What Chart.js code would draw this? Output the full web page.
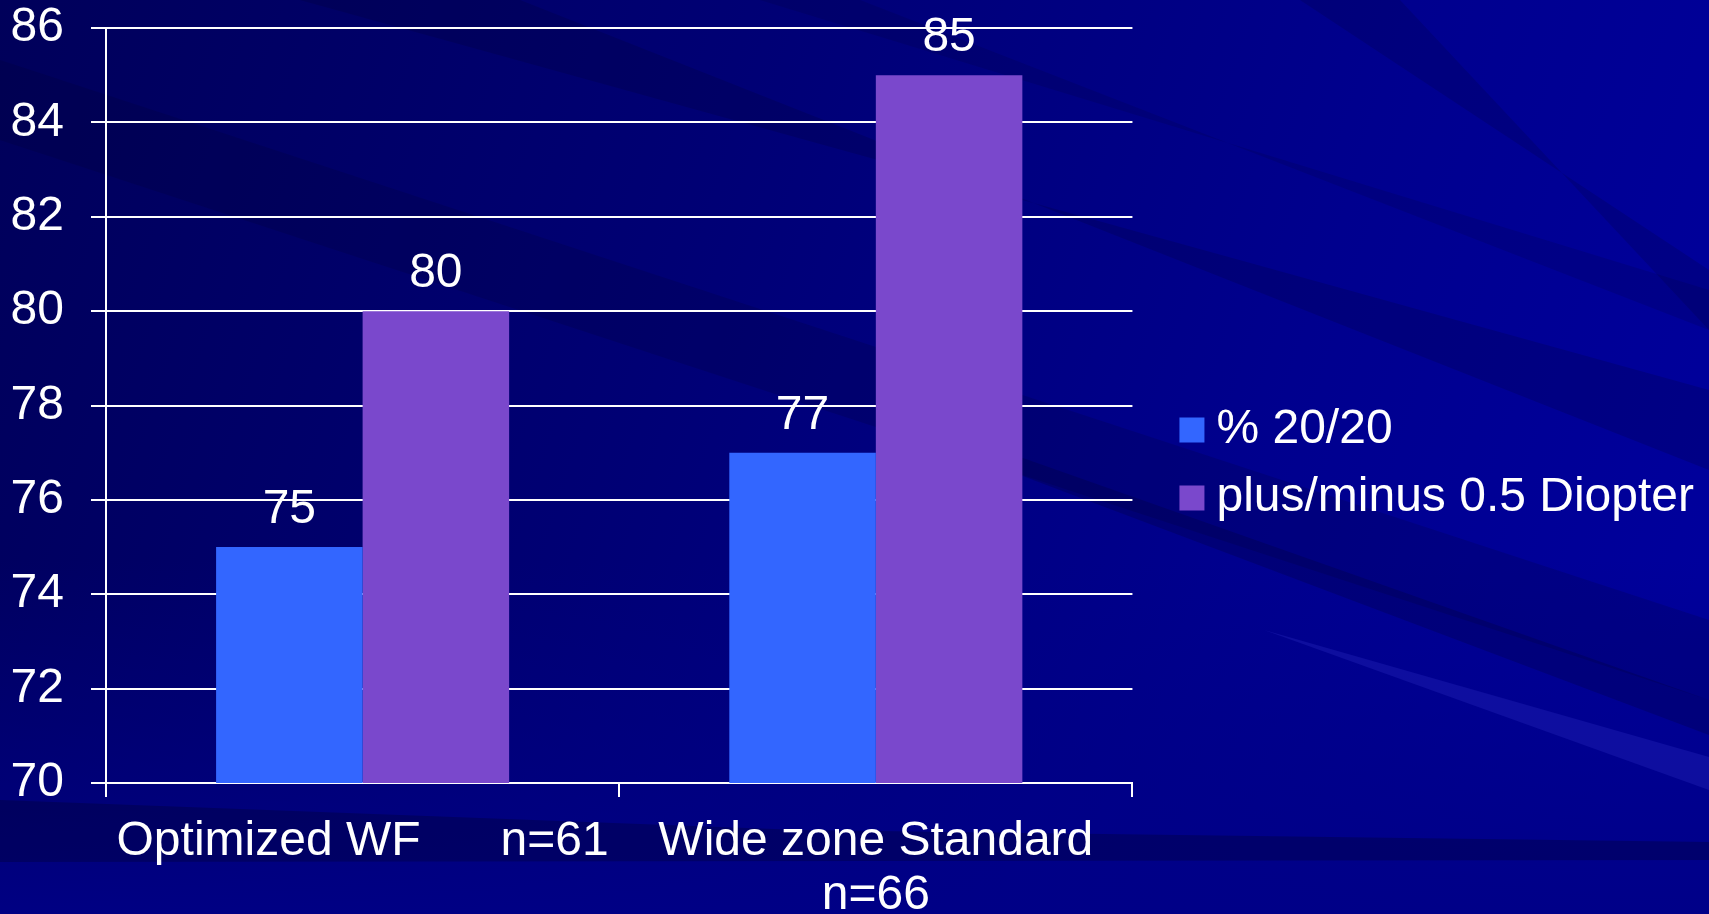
<!DOCTYPE html>
<html>
<head>
<meta charset="utf-8">
<script src="https://cdn.jsdelivr.net/npm/chart.js@4.4.0/dist/chart.umd.min.js"></script>
<style>
  html, body { margin: 0; padding: 0; background: #000080; overflow: hidden; }
  #chart { display: block; }
</style>
</head>
<body>
<canvas id="chart" width="1709" height="914"></canvas>
<script>
// Categories (multi-line labels as arrays)
const categories = [['Optimized WF      n=61'], ['Wide zone Standard', 'n=66']];
const seriesNames = ['% 20/20', 'plus/minus 0.5 Diopter'];
const pct2020 = [75, 77];
const pctHalfDiopter = [80, 85];
const yMin = 70;
const yMax = 86;
const yStep = 2;

const FONT = "'Liberation Sans', Arial, Helvetica, sans-serif";
const WHITE = '#ffffff';

// Slide-style backdrop: navy gradient with soft diagonal streaks
const backdrop = {
  id: 'backdrop',
  beforeDraw(chart) {
    const { ctx, width, height } = chart;
    ctx.save();
    const g = ctx.createLinearGradient(0, 0, width, height * 0.6);
    g.addColorStop(0, '#00005a');
    g.addColorStop(0.4, '#000074');
    g.addColorStop(0.75, '#00008e');
    g.addColorStop(1, '#00009c');
    ctx.fillStyle = g;
    ctx.fillRect(0, 0, width, height);

    // lower part of the slide is a flatter navy
    const g2 = ctx.createLinearGradient(0, 560, 0, 914);
    g2.addColorStop(0, 'rgba(0,0,128,0)');
    g2.addColorStop(1, 'rgba(0,0,134,0.9)');
    ctx.fillStyle = g2;
    ctx.fillRect(0, 560, width, height - 560);

    const bands = [
      [[[0, 60], [0, 140], [1709, 700], [1709, 620]], 'rgba(0,0,40,0.16)'],
      [[[300, 0], [520, 0], [1709, 470], [1709, 390]], 'rgba(0,0,40,0.18)'],
      [[[760, 0], [860, 0], [1709, 330], [1709, 290]], 'rgba(0,0,40,0.14)'],
      [[[1300, 0], [1400, 0], [1709, 330], [1709, 270]], 'rgba(0,0,40,0.16)'],
      [[[1020, 457], [1709, 700], [1709, 735], [1020, 475]], 'rgba(0,0,40,0.22)'],
      [[[1264, 630], [1709, 757], [1709, 790]], 'rgba(50,50,200,0.28)'],
      [[[0, 800], [0, 862], [1709, 860], [1709, 842], [800, 830]], 'rgba(0,0,40,0.30)']
    ];
    for (const [pts, fill] of bands) {
      ctx.beginPath();
      ctx.moveTo(pts[0][0], pts[0][1]);
      for (let i = 1; i < pts.length; i++) ctx.lineTo(pts[i][0], pts[i][1]);
      ctx.closePath();
      ctx.fillStyle = fill;
      ctx.fill();
    }
    ctx.restore();
  }
};

// Value labels above each bar
const barValues = {
  id: 'barValues',
  afterDatasetsDraw(chart) {
    const { ctx } = chart;
    ctx.save();
    ctx.font = `48px ${FONT}`;
    ctx.fillStyle = WHITE;
    ctx.textAlign = 'center';
    ctx.textBaseline = 'middle';
    chart.data.datasets.forEach((ds, di) => {
      const meta = chart.getDatasetMeta(di);
      meta.data.forEach((bar, i) => {
        ctx.fillText(String(ds.data[i]), bar.x, bar.y - 37);
      });
    });
    ctx.restore();
  }
};

new Chart(document.getElementById('chart'), {
  type: 'bar',
  data: {
    labels: categories,
    datasets: [
      { label: seriesNames[0], data: pct2020, backgroundColor: '#3366ff', borderWidth: 0 },
      { label: seriesNames[1], data: pctHalfDiopter, backgroundColor: '#7a48cc', borderWidth: 0 }
    ]
  },
  options: {
    responsive: false,
    animation: false,
    layout: { padding: { top: 14, right: 5, bottom: 0, left: 0 } },
    datasets: {
      bar: { categoryPercentage: 0.571, barPercentage: 1.0 }
    },
    plugins: {
      tooltip: { enabled: false },
      legend: {
        position: 'right',
        align: 'center',
        maxWidth: 640,
        labels: {
          color: WHITE,
          font: { family: FONT, size: 48 },
          usePointStyle: true,
          pointStyle: 'rect',
          boxWidth: 1,
          boxHeight: 25,
          padding: 20
        }
      }
    },
    scales: {
      x: {
        grid: {
          display: true,
          drawOnChartArea: false,
          drawTicks: true,
          tickLength: 14,
          color: WHITE,
          lineWidth: 2,
          offset: true
        },
        border: { display: true, color: WHITE, width: 2 },
        ticks: {
          color: WHITE,
          font: { family: FONT, size: 48, lineHeight: 1.125 },
          padding: 18,
          maxRotation: 0,
          autoSkip: false
        },
        afterFit(scale) { scale.height = 131; }
      },
      y: {
        min: yMin,
        max: yMax,
        ticks: {
          stepSize: yStep,
          color: WHITE,
          font: { family: FONT, size: 48, lineHeight: 1.1667 },
          padding: 27
        },
        grid: {
          color: WHITE,
          lineWidth: 2,
          tickLength: 15,
          drawTicks: true
        },
        border: { display: true, color: WHITE, width: 2 },
        afterFit(scale) {
          scale.width = 106;
          scale.paddingTop = 28;
          scale.paddingBottom = 0;
        }
      },
      gap: {
        type: 'linear',
        position: 'right',
        display: true,
        grid: { display: false },
        border: { display: false },
        ticks: { display: false },
        afterFit(scale) { scale.width = 39; }
      }
    }
  },
  plugins: [backdrop, barValues]
});
</script>
</body>
</html>
